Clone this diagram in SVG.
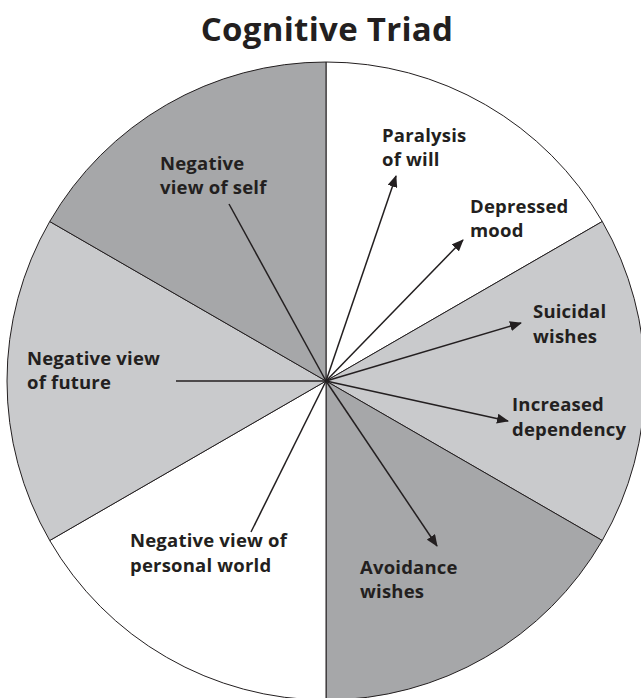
<svg xmlns="http://www.w3.org/2000/svg" width="641" height="698" viewBox="0 0 641 698">
  <defs>
    <style>
      .title { font-family: "Open Sans", "Liberation Sans", sans-serif; font-weight: bold; font-size: 33px; letter-spacing: 0.3px; fill: #231f20; font-variant-ligatures: none; }
      .lbl { font-family: "Open Sans", "Liberation Sans", sans-serif; font-weight: bold; font-size: 18.5px; letter-spacing: 0.2px; fill: #231f20; font-variant-ligatures: none; }
      .sector { stroke: #231f20; stroke-width: 1; stroke-linejoin: round; }
      .dark { fill: #a6a7a9; }
      .light { fill: #c9cacc; }
      .white { fill: #ffffff; }
      .spoke { stroke: #231f20; stroke-width: 1.5; fill: none; }
    </style>
    <marker id="arrow" viewBox="0 0 12 10" refX="11" refY="5" markerWidth="12" markerHeight="10" markerUnits="userSpaceOnUse" orient="auto">
      <path d="M0,0 L12,5 L0,10 Z" fill="#231f20"/>
    </marker>
  </defs>
  <rect width="641" height="698" fill="#ffffff"/>
  <text class="title" x="327" y="41" text-anchor="middle">Cognitive Triad</text>

  <g id="pie">
    <path class="sector white" d="M326,381 L326,62 A319,319 0 0 1 602.26,221.5 Z"/>
    <path class="sector light" d="M326,381 L602.26,221.5 A319,319 0 0 1 602.26,540.5 Z"/>
    <path class="sector dark" d="M326,381 L602.26,540.5 A319,319 0 0 1 326,700 Z"/>
    <path class="sector white" d="M326,381 L326,700 A319,319 0 0 1 49.74,540.5 Z"/>
    <path class="sector light" d="M326,381 L49.74,540.5 A319,319 0 0 1 49.74,221.5 Z"/>
    <path class="sector dark" d="M326,381 L49.74,221.5 A319,319 0 0 1 326,62 Z"/>
  </g>

  <g id="connectors">
    <line class="spoke" x1="326" y1="381" x2="229" y2="204"/>
    <line class="spoke" x1="326" y1="381" x2="176" y2="381"/>
    <line class="spoke" x1="326" y1="381" x2="251" y2="532"/>
    <line class="spoke" x1="326" y1="381" x2="396" y2="176" marker-end="url(#arrow)"/>
    <line class="spoke" x1="326" y1="381" x2="463" y2="240" marker-end="url(#arrow)"/>
    <line class="spoke" x1="326" y1="381" x2="521" y2="323" marker-end="url(#arrow)"/>
    <line class="spoke" x1="326" y1="381" x2="508" y2="421" marker-end="url(#arrow)"/>
    <line class="spoke" x1="326" y1="381" x2="437" y2="546" marker-end="url(#arrow)"/>
  </g>

  <g id="node-self"><text class="lbl" x="160" y="170">Negative</text><text class="lbl" x="160" y="194">view of self</text></g>
  <g id="node-future"><text class="lbl" x="27" y="365">Negative view</text><text class="lbl" x="27" y="389">of future</text></g>
  <g id="node-world"><text class="lbl" x="130" y="547">Negative view of</text><text class="lbl" x="130" y="572">personal world</text></g>
  <g id="node-paralysis"><text class="lbl" x="382" y="142">Paralysis</text><text class="lbl" x="382" y="166">of will</text></g>
  <g id="node-mood"><text class="lbl" x="470" y="213">Depressed</text><text class="lbl" x="470" y="237">mood</text></g>
  <g id="node-suicidal"><text class="lbl" x="533" y="318">Suicidal</text><text class="lbl" x="533" y="343">wishes</text></g>
  <g id="node-dependency"><text class="lbl" x="512" y="411">Increased</text><text class="lbl" x="512" y="436">dependency</text></g>
  <g id="node-avoidance"><text class="lbl" x="360" y="574">Avoidance</text><text class="lbl" x="360" y="598">wishes</text></g>
</svg>
